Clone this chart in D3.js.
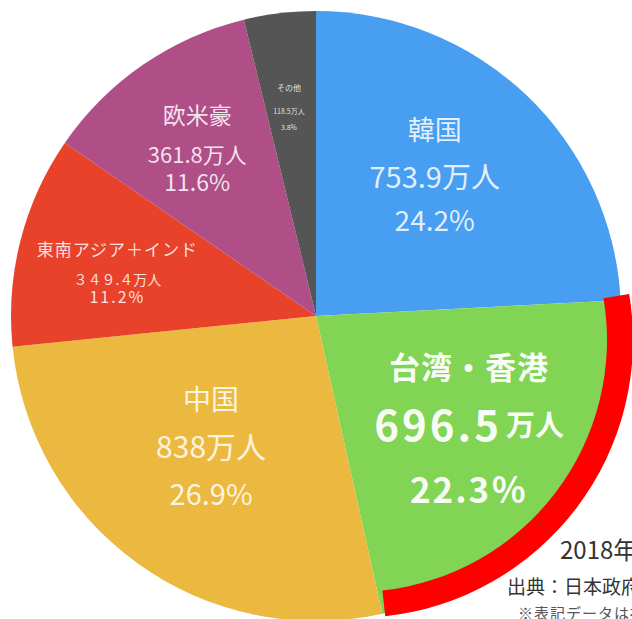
<!DOCTYPE html>
<html>
<head>
<meta charset="utf-8">
<script src="https://cdn.jsdelivr.net/npm/d3@7"></script>
<style>
  html, body { margin: 0; padding: 0; background: #fff; overflow: hidden; }
  svg text { font-family: "Noto Sans CJK JP", "Noto Sans", sans-serif; }
</style>
</head>
<body>
<div id="chart"></div>
<script>
// Visitors to Japan 2018 by region (10k people)
var categories = ["韓国", "台湾・香港", "中国", "東南アジア＋インド", "欧米豪", "その他"];
var visitors = [753.9, 696.5, 838, 349.4, 361.8, 118.5];
var valueLabels = ["753.9万人", "696.5", "838万人", "３４９.４万人", "361.8万人", "118.5万人"];
var shareLabels = ["24.2%", "22.3％", "26.9%", "11.2%", "11.6%", "3.8%"];
var colors = ["#489ef0", "#82d455", "#ecb940", "#e8432a", "#b04e88", "#555555"];
var notes = ["2018年 訪日外客数", "出典：日本政府観光局（JNTO）", "※表記データは推計値です"];

var svgWidth = 632;
var svgHeight = 619;
var cx = 316, cy = 316, radius = 305;

var svg = d3.select("#chart")
  .append("svg")
  .attr("width", svgWidth)
  .attr("height", svgHeight);

var pieGroup = svg.append("g")
  .attr("transform", `translate(${cx}, ${cy})`);

var pie = d3.pie().sort(null).value(d => d);
var arcs = pie(visitors);

var arc = d3.arc().innerRadius(0).outerRadius(radius);

pieGroup.selectAll("path.slice")
  .data(arcs)
  .enter()
  .append("path")
  .attr("class", "slice")
  .attr("d", arc)
  .attr("fill", (d, i) => colors[i]);

// highlight ring drawn over Taiwan/HK (hand-drawn, not concentric in the original)
var hl = arcs[1];
var ring = d3.arc()
  .innerRadius(252)
  .outerRadius(278)
  .startAngle(hl.startAngle - 0.115)
  .endAngle(hl.endAngle + 0.11);
svg.append("path")
  .attr("transform", `translate(${cx + 39}, ${cy + 24})`)
  .attr("d", ring())
  .attr("fill", "#ff0000");

// label layout per slice: radius of anchor, x nudge, line offsets, font sizes, weight
var labelLayout = [
  { r: 184, dx: -8, dy: [-54, -8, 36], fs: [27, 29, 28], fw: 400, ls: [0, 0, 0] },
  { r: 191, dx: 1,  dy: [-66, -9, 56], fs: [31, 42, 35], fw: 700, ls: [1, 3, 2] },
  { r: 169, dx: -6, dy: [-55, -8, 39], fs: [28, 30, 29], fw: 400, ls: [0, 0, 0] },
  { r: 204, dx: -1, dy: [-17, 14, 31], fs: [17, 14, 16], fw: 400, ls: [1, 0, 2] },
  { r: 204, dx: -3, dy: [-34, 5, 33],  fs: [23, 22, 23], fw: 400, ls: [0, 0, 0] },
  { r: 210, dx: -2, dy: [-20, 4, 20],  fs: [8, 7, 7],   fw: 400, ls: [0, 0, 0] }
];

arcs.forEach(function(d, i) {
  var lay = labelLayout[i];
  var c = d3.arc().innerRadius(lay.r).outerRadius(lay.r).centroid(d);
  var g = pieGroup.append("g")
    .attr("transform", `translate(${c[0] + lay.dx}, ${c[1]})`)
    .attr("fill", "#ffffff")
    .attr("fill-opacity", i === 1 ? 0.95 : 0.85)
    .attr("text-anchor", "middle")
    .attr("font-weight", lay.fw);

  g.append("text")
    .attr("y", lay.dy[0])
    .attr("dominant-baseline", "central")
    .attr("font-size", lay.fs[0] + "px")
    .attr("letter-spacing", lay.ls[0] + "px")
    .text(categories[i]);

  var v = g.append("text")
    .attr("y", lay.dy[1])
    .attr("dominant-baseline", "central")
    .attr("font-size", lay.fs[1] + "px")
    .attr("letter-spacing", lay.ls[1] + "px")
    .text(valueLabels[i]);
  if (i === 1) {
    v.append("tspan")
      .attr("font-size", "29px")
      .attr("dx", 4)
      .attr("letter-spacing", "0px")
      .text("万人");
  }

  g.append("text")
    .attr("y", lay.dy[2])
    .attr("dominant-baseline", "central")
    .attr("font-size", lay.fs[2] + "px")
    .attr("letter-spacing", lay.ls[2] + "px")
    .text(shareLabels[i]);
});

// source notes, cut off by the right edge like the original
var noteX = [560, 507, 518];
var noteY = [548, 585, 612];
var noteSize = [24, 19, 15];
var noteSpacing = [0, 0, 1];
var noteColor = ["#333", "#333", "#555"];
notes.forEach(function(t, i) {
  svg.append("text")
    .attr("x", noteX[i])
    .attr("y", noteY[i])
    .attr("dominant-baseline", "central")
    .attr("font-size", noteSize[i] + "px")
    .attr("letter-spacing", noteSpacing[i] + "px")
    .attr("fill", noteColor[i])
    .text(t);
});
</script>
</body>
</html>
